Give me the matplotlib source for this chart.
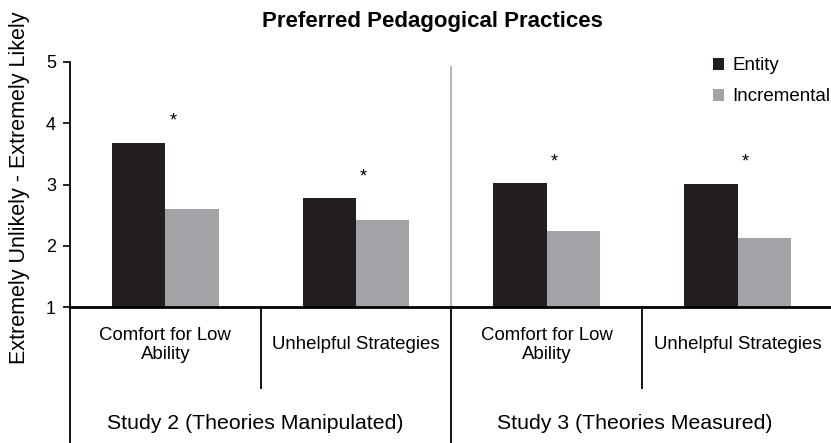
import matplotlib.pyplot as plt
import numpy as np

# Data
categories = ["Comfort for Low\nAbility", "Unhelpful Strategies",
              "Comfort for Low\nAbility", "Unhelpful Strategies"]
studies = ["Study 2 (Theories Manipulated)", "Study 3 (Theories Measured)"]
entity = [3.68, 2.78, 3.02, 3.01]
incremental = [2.60, 2.42, 2.24, 2.13]
significant = [True, True, True, True]

plt.rcParams['font.family'] = ['Liberation Sans', 'DejaVu Sans']

fig = plt.figure(figsize=(8.31, 4.43), dpi=100)
ax = fig.add_axes([70 / 831, 1 - 307 / 443, 1 - 70 / 831, 245 / 443])

x = np.arange(len(categories))
w = 0.28
ax.bar(x - w / 2, [v - 1 for v in entity], w, bottom=1, color="#231f20", label="Entity")
ax.bar(x + w / 2, [v - 1 for v in incremental], w, bottom=1, color="#a2a3a7", label="Incremental")

# significance stars
for i, s in enumerate(significant):
    if s:
        ax.text(x[i] + 0.04, max(entity[i], incremental[i]) + 0.35, "*",
                ha="center", va="center", fontsize=13)

ax.set_xlim(-0.5, 3.49)
ax.set_ylim(1, 5)
ax.set_yticks([1, 2, 3, 4, 5])
ax.tick_params(axis="y", labelsize=13, length=5, width=1.2, pad=5)
ax.set_xticks([])
for s in ["top", "right"]:
    ax.spines[s].set_visible(False)
ax.spines["left"].set_linewidth(1.3)
ax.spines["bottom"].set_linewidth(2)

ax.set_ylabel("Extremely Unlikely - Extremely Likely", fontsize=15.5)
ax.yaxis.set_label_coords(-0.053, 0.488)

# study divider above axis (light gray)
ax.axvline(1.5, ymin=0, ymax=0.98, color="#b8b8b8", lw=1.5)

# category dividers below axis
tr = ax.get_xaxis_transform()
ax.plot([-0.5, -0.5], [0, -0.56], color="black", lw=1.3, transform=tr, clip_on=False)
ax.plot([1.5, 1.5], [0, -0.56], color="black", lw=1.3, transform=tr, clip_on=False)
for d in [0.5, 2.5]:
    ax.plot([d, d], [0, -0.33], color="black", lw=1.3, transform=tr, clip_on=False)

for i, c in enumerate(categories):
    ax.text(x[i], -0.155, c, transform=tr, ha="center", va="center",
            fontsize=13.4, linespacing=1.15)
ax.text(0.47, -0.477, studies[0], transform=tr, ha="center", va="center", fontsize=15.3)
ax.text(2.46, -0.477, studies[1], transform=tr, ha="center", va="center", fontsize=15.3)

fig.text(432 / 831, 1 - 22 / 443, "Preferred Pedagogical Practices", ha="center", va="center",
         fontsize=16, fontweight="bold")

ax.legend(loc="upper left", bbox_to_anchor=(0.835, 1.05), frameon=False, fontsize=13.5,
          handlelength=0.6, handleheight=0.6, handletextpad=0.45, labelspacing=0.75, borderaxespad=0)

fig.savefig("out.png", dpi=100)
